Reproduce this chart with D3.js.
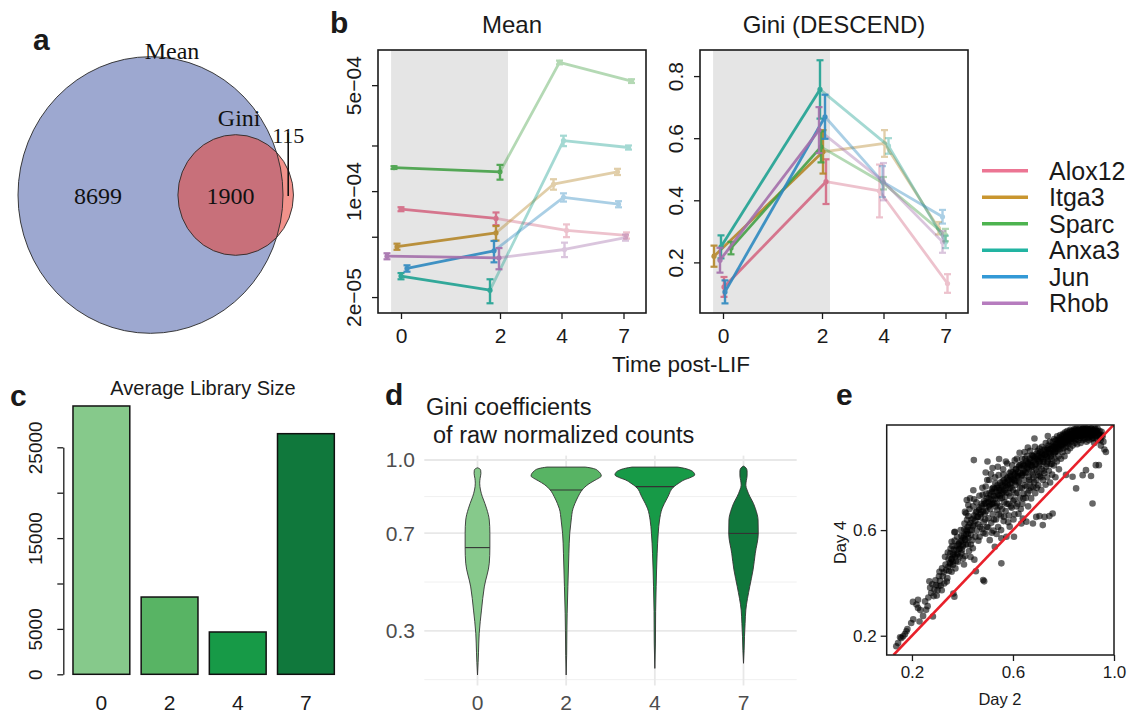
<!DOCTYPE html>
<html><head><meta charset="utf-8">
<script src="https://cdn.jsdelivr.net/npm/d3@7"></script>
<style>body{margin:0;background:#fff} svg{display:block}</style>
</head><body>
<svg id="fig" width="1131" height="715"></svg>
<script>
// ================= DATA =================
// panel a: Venn counts
const vennNames = ["Mean", "Gini"];
const vennCounts = [8699, 1900, 115]; // Mean only, both, Gini only

// panel b: genes over time
const times = [0, 2, 4, 7];
const genes = ["Alox12", "Itga3", "Sparc", "Anxa3", "Jun", "Rhob"];
const geneColors = ["#ec7593", "#c9962f", "#4db34f", "#22b4a2", "#3399d6", "#b67cbe"];
const meanValues = [
  [7.6e-5, 6.6e-5, 5.5e-5, 5.1e-5],
  [4.3e-5, 5.3e-5, 1.11e-4, 1.34e-4],
  [1.43e-4, 1.34e-4, 7.06e-4, 5.32e-4],
  [2.75e-5, 2.22e-5, 2.15e-4, 1.94e-4],
  [3.09e-5, 4.04e-5, 9.1e-5, 8.2e-5],
  [3.72e-5, 3.63e-5, 4.12e-5, 4.94e-5]
];
const meanErrors = [
  [0.23e-5, 0.63e-5, 0.53e-5, 0.24e-5],
  [0.2e-5, 0.58e-5, 0.88e-5, 0.63e-5],
  [0.3e-5, 1.5e-5, 2.0e-5, 1.5e-5],
  [0.13e-5, 0.4e-5, 1.7e-5, 0.6e-5],
  [0.15e-5, 0.65e-5, 0.57e-5, 0.38e-5],
  [0.17e-5, 0.58e-5, 0.45e-5, 0.23e-5]
];
const giniValues = [
  [0.121, 0.46, 0.43, 0.132],
  [0.22, 0.556, 0.583, 0.31],
  [0.246, 0.572, 0.455, 0.288],
  [0.25, 0.757, 0.575, 0.266],
  [0.105, 0.669, 0.46, 0.347],
  [0.207, 0.626, 0.46, 0.266]
];
const giniErrors = [
  [0.032, 0.072, 0.085, 0.03],
  [0.034, 0.07, 0.043, 0.02],
  [0.02, 0.05, 0.02, 0.02],
  [0.037, 0.094, 0.025, 0.02],
  [0.037, 0.071, 0.05, 0.022],
  [0.04, 0.074, 0.06, 0.035]
];
const meanTicks = [5e-4, 2e-4, 1e-4, 5e-5, 2e-5];
const meanTickLabels = ["5e\u221204", "", "1e\u221204", "", "2e\u221205"];
const giniTicks = [0.2, 0.4, 0.6, 0.8];
const giniTickLabels = ["0.2", "0.4", "0.6", "0.8"];

// panel c: library size
const libDays = ["0", "2", "4", "7"];
const libSizes = [29550, 8510, 4660, 26500];
const libTicks = [0, 5000, 10000, 15000, 20000, 25000];
const libTickLabels = ["0", "5000", "", "15000", "", "25000"];
const dayGreens = ["#86c98b", "#58b464", "#179a47", "#10783c"];

// panel d: violin density profiles [gini, relative density]
const violinDays = ["0", "2", "4", "7"];
const violinProfiles = [
  [[0.119,0],[0.17,0.015],[0.21,0.025],[0.29,0.043],[0.385,0.10],[0.48,0.17],[0.577,0.295],[0.641,0.31],[0.70,0.31],[0.754,0.295],[0.80,0.23],[0.822,0.185],[0.85,0.12],[0.877,0.075],[0.905,0.055],[0.925,0.065],[0.945,0.085],[0.958,0.08],[0.965,0.045],[0.968,0]],
  [[0.119,0],[0.2,0.012],[0.3,0.018],[0.372,0.025],[0.481,0.043],[0.618,0.068],[0.70,0.09],[0.754,0.126],[0.80,0.17],[0.822,0.22],[0.85,0.30],[0.877,0.40],[0.90,0.55],[0.915,0.70],[0.926,0.82],[0.934,0.88],[0.945,0.86],[0.955,0.80],[0.962,0.74],[0.968,0.6],[0.971,0.48]],
  [[0.146,0],[0.25,0.015],[0.38,0.02],[0.481,0.033],[0.618,0.058],[0.70,0.085],[0.754,0.118],[0.80,0.18],[0.822,0.24],[0.85,0.33],[0.891,0.48],[0.905,0.6],[0.918,0.73],[0.93,0.92],[0.939,1.0],[0.95,0.97],[0.959,0.88],[0.966,0.74],[0.971,0.57]],
  [[0.167,0],[0.22,0.015],[0.276,0.025],[0.33,0.04],[0.385,0.058],[0.481,0.156],[0.55,0.24],[0.618,0.295],[0.699,0.37],[0.754,0.365],[0.80,0.30],[0.822,0.25],[0.85,0.16],[0.877,0.09],[0.897,0.058],[0.915,0.07],[0.935,0.09],[0.955,0.09],[0.968,0.06],[0.975,0]]
];
const violinMedians = [0.641, 0.877, 0.891, 0.699];
const violinBreaks = [0.3, 0.7, 1.0];
const violinMinorBreaks = [0.1, 0.5, 0.85];

// panel e: Gini Day 2 vs Day 4
const giniDay2Day4 = [
[0.138,0.160],[0.145,0.172],[0.153,0.194],[0.158,0.191],[0.165,0.198],[0.172,0.206],[0.178,0.217],[0.182,0.225],[0.197,0.248],[0.205,0.262],
[0.230,0.254],[0.244,0.275],[0.204,0.328],[0.224,0.336],[0.218,0.318],[0.224,0.305],[0.233,0.297],[0.256,0.298],[0.262,0.312],[0.283,0.273],
[0.276,0.362],[0.289,0.374],[0.305,0.388],[0.269,0.406],[0.296,0.392],[0.311,0.408],[0.298,0.352],[0.318,0.372],[0.309,0.442],[0.322,0.425],
[0.335,0.449],[0.331,0.499],[0.344,0.461],[0.357,0.442],[0.368,0.348],[0.364,0.360],[0.328,0.398],[0.340,0.418],[0.350,0.475],[0.345,0.490],
[0.352,0.512],[0.362,0.468],[0.372,0.455],[0.366,0.526],[0.378,0.505],[0.382,0.480],[0.360,0.540],[0.370,0.594],[0.357,0.556],[0.377,0.540],
[0.386,0.528],[0.392,0.556],[0.396,0.512],[0.402,0.492],[0.406,0.470],[0.411,0.502],[0.401,0.538],[0.412,0.562],[0.421,0.546],[0.426,0.521],
[0.432,0.498],[0.441,0.531],[0.438,0.562],[0.447,0.488],[0.453,0.444],[0.482,0.411],[0.486,0.406],[0.368,0.592],[0.414,0.585],[0.434,0.582],
[0.396,0.578],[0.407,0.603],[0.421,0.612],[0.431,0.627],[0.418,0.639],[0.414,0.664],[0.423,0.653],[0.410,0.669],[0.443,0.644],[0.453,0.667],
[0.466,0.677],[0.417,0.714],[0.430,0.720],[0.423,0.695],[0.446,0.717],[0.443,0.751],[0.445,0.865],[0.480,0.734],[0.492,0.765],[0.506,0.790],
[0.492,0.818],[0.499,0.860],[0.519,0.835],[0.545,0.869],[0.492,0.702],[0.456,0.598],[0.462,0.622],[0.468,0.575],[0.472,0.648],[0.476,0.700],
[0.478,0.604],[0.484,0.630],[0.488,0.662],[0.491,0.586],[0.494,0.738],[0.497,0.612],[0.503,0.645],[0.505,0.690],[0.508,0.562],[0.511,0.717],
[0.514,0.628],[0.517,0.756],[0.520,0.660],[0.523,0.598],[0.526,0.702],[0.528,0.537],[0.530,0.778],[0.533,0.640],[0.536,0.731],[0.538,0.676],
[0.541,0.612],[0.543,0.808],[0.546,0.752],[0.549,0.690],[0.552,0.655],[0.554,0.474],[0.554,0.569],[0.556,0.721],[0.559,0.785],[0.561,0.830],
[0.563,0.634],[0.566,0.705],[0.568,0.768],[0.571,0.672],[0.574,0.575],[0.574,0.742],[0.577,0.852],[0.579,0.800],[0.582,0.700],[0.584,0.655],
[0.587,0.613],[0.587,0.760],[0.590,0.728],[0.592,0.822],[0.595,0.685],[0.598,0.792],[0.600,0.752],[0.602,0.640],[0.604,0.575],[0.605,0.715],
[0.607,0.864],[0.610,0.772],[0.612,0.830],[0.614,0.690],[0.617,0.742],[0.619,0.806],[0.622,0.662],[0.624,0.783],[0.626,0.893],[0.627,0.722],
[0.630,0.848],[0.633,0.625],[0.635,0.760],[0.637,0.700],[0.639,0.644],[0.640,0.815],[0.642,0.738],[0.645,0.790],[0.646,0.896],[0.648,0.870],
[0.650,0.722],[0.653,0.632],[0.654,0.765],[0.656,0.838],[0.659,0.913],[0.660,0.690],[0.662,0.802],[0.665,0.750],[0.667,0.858],[0.669,0.782],
[0.672,0.720],[0.674,0.822],[0.676,0.884],[0.679,0.625],[0.680,0.762],[0.682,0.800],[0.685,0.947],[0.686,0.845],[0.688,0.740],[0.690,0.868],
[0.692,0.650],[0.693,0.790],[0.696,0.820],[0.698,0.900],[0.700,0.770],[0.702,0.842],[0.705,0.653],[0.705,0.909],[0.707,0.805],[0.710,0.875],
[0.712,0.752],[0.714,0.830],[0.716,0.890],[0.718,0.619],[0.719,0.790],[0.722,0.858],[0.724,0.815],[0.725,0.650],[0.727,0.905],[0.729,0.772],
[0.731,0.840],[0.733,0.880],[0.735,0.800],[0.738,0.956],[0.738,0.860],[0.740,0.920],[0.742,0.825],[0.744,0.653],[0.745,0.893],[0.747,0.780],
[0.749,0.850],[0.751,0.910],[0.753,0.870],[0.755,0.810],[0.757,0.663],[0.758,0.935],[0.760,0.890],[0.762,0.845],[0.764,0.915],[0.766,0.870],
[0.768,0.800],[0.770,0.940],[0.772,0.900],[0.774,0.860],[0.777,0.941],[0.778,0.920],[0.780,0.880],[0.782,0.830],[0.784,0.950],[0.786,0.905],
[0.788,0.935],[0.790,0.870],[0.792,0.920],[0.794,0.955],[0.796,0.895],[0.798,0.940],[0.800,0.910],[0.802,0.960],[0.804,0.880],[0.806,0.930],
[0.808,0.950],[0.810,0.809],[0.810,0.915],[0.812,0.965],[0.814,0.940],[0.816,0.900],[0.818,0.955],[0.820,0.925],[0.822,0.970],[0.824,0.945],
[0.826,0.910],[0.828,0.960],[0.830,0.935],[0.832,0.975],[0.834,0.950],[0.836,0.802],[0.836,0.920],[0.838,0.965],[0.840,0.945],[0.842,0.975],
[0.844,0.930],[0.846,0.960],[0.848,0.980],[0.850,0.758],[0.850,0.945],[0.852,0.970],[0.854,0.925],[0.856,0.955],[0.858,0.980],[0.860,0.940],
[0.862,0.965],[0.864,0.975],[0.866,0.950],[0.868,0.930],[0.870,0.970],[0.872,0.982],[0.874,0.955],[0.876,0.808],[0.876,0.940],[0.878,0.970],
[0.880,0.960],[0.882,0.982],[0.884,0.945],[0.886,0.975],[0.889,0.827],[0.889,0.960],[0.891,0.935],[0.893,0.980],[0.895,0.965],[0.897,0.950],
[0.899,0.975],[0.901,0.940],[0.903,0.968],[0.905,0.983],[0.907,0.955],[0.909,0.805],[0.910,0.972],[0.912,0.945],[0.915,0.701],[0.915,0.962],
[0.918,0.978],[0.920,0.950],[0.922,0.930],[0.925,0.970],[0.928,0.846],[0.930,0.958],[0.933,0.975],[0.936,0.940],[0.940,0.965],[0.945,0.950],
[0.948,0.920],[0.952,0.960],[0.958,0.935],[0.968,0.896],[0.962,0.905],[0.940,0.846],
[0.252,0.330],[0.265,0.345],[0.272,0.382],[0.281,0.395],[0.286,0.350],[0.293,0.410],[0.301,0.372],[0.307,0.425],[0.314,0.390],[0.319,0.455],
[0.326,0.440],[0.333,0.470],[0.338,0.405],[0.342,0.515],[0.347,0.445],[0.353,0.530],[0.358,0.490],[0.363,0.505],[0.369,0.560],[0.374,0.482],
[0.379,0.575],[0.384,0.545],[0.389,0.500],[0.393,0.600],[0.398,0.525],[0.403,0.570],[0.408,0.625],[0.413,0.545],[0.418,0.595],[0.424,0.570],
[0.428,0.680],[0.433,0.545],[0.437,0.600],[0.442,0.690],[0.447,0.620],[0.451,0.575],[0.455,0.705],[0.459,0.650],[0.463,0.560],[0.467,0.730],
[0.470,0.612],[0.474,0.668],[0.479,0.760],[0.483,0.590],[0.487,0.700],[0.490,0.640],[0.495,0.672],[0.498,0.790],[0.502,0.610],[0.507,0.740],
[0.510,0.680],[0.513,0.812],[0.516,0.590],[0.519,0.700],[0.522,0.760],[0.525,0.640],[0.529,0.800],[0.532,0.690],[0.535,0.585],[0.538,0.760],
[0.540,0.840],[0.544,0.660],[0.547,0.720],[0.550,0.780],[0.553,0.600],[0.557,0.680],[0.560,0.745],[0.562,0.810],[0.565,0.650],[0.569,0.725],
[0.572,0.860],[0.575,0.700],[0.578,0.780],[0.581,0.630],[0.585,0.740],[0.588,0.805],[0.591,0.690],[0.594,0.760],[0.597,0.845],[0.601,0.710],
[0.603,0.790],[0.606,0.660],[0.609,0.815],[0.611,0.740],[0.615,0.870],[0.618,0.700],[0.621,0.780],[0.623,0.840],[0.628,0.760],[0.631,0.680],
[0.634,0.805],[0.636,0.870],[0.641,0.720],[0.643,0.845],[0.647,0.770],[0.651,0.815],[0.655,0.880],[0.658,0.740],[0.661,0.850],[0.664,0.790],
[0.668,0.900],[0.671,0.760],[0.675,0.845],[0.678,0.810],[0.681,0.880],[0.684,0.780],[0.687,0.915],[0.691,0.830],[0.694,0.760],[0.697,0.870],
[0.701,0.810],[0.704,0.890],[0.708,0.850],[0.711,0.800],[0.715,0.915],[0.718,0.860],[0.721,0.825],[0.726,0.885],[0.730,0.930],[0.734,0.850],
[0.737,0.905],[0.741,0.870],[0.746,0.935],[0.750,0.890],[0.754,0.850],[0.759,0.915],[0.763,0.945],[0.767,0.895],[0.771,0.925],[0.775,0.955],
[0.779,0.905],[0.783,0.935],[0.787,0.960],[0.791,0.945],[0.795,0.925],[0.799,0.965],[0.803,0.945],[0.807,0.970],[0.811,0.950],[0.815,0.975],
[0.819,0.935],[0.823,0.960],[0.827,0.980],[0.831,0.955],[0.835,0.975],[0.839,0.955],[0.843,0.983],[0.847,0.965],[0.851,0.985],[0.855,0.960],
[0.859,0.972],[0.863,0.985],[0.867,0.962],[0.871,0.978],[0.875,0.985],[0.879,0.950],[0.883,0.970],[0.887,0.985],[0.891,0.962],[0.895,0.985],
[0.899,0.955],[0.903,0.978],[0.907,0.968],[0.911,0.985],[0.915,0.950],[0.919,0.968],[0.923,0.982],[0.927,0.955],[0.931,0.968],[0.935,0.985],
[0.939,0.960],[0.943,0.975],[0.947,0.940],[0.951,0.972],[0.955,0.955],
[0.501,0.705],[0.504,0.720],[0.509,0.695],[0.512,0.735],[0.515,0.700],[0.518,0.745],[0.521,0.715],[0.524,0.730],[0.527,0.755],[0.531,0.720],
[0.534,0.745],[0.537,0.700],[0.539,0.770],[0.542,0.735],[0.545,0.760],[0.548,0.730],[0.551,0.750],[0.555,0.770],[0.558,0.740],[0.561,0.765],
[0.564,0.790],[0.567,0.750],[0.570,0.780],[0.573,0.760],[0.576,0.795],[0.580,0.770],[0.583,0.790],[0.586,0.815],[0.589,0.775],[0.592,0.800],
[0.596,0.780],[0.599,0.820],[0.602,0.795],[0.606,0.810],[0.609,0.785],[0.612,0.830],[0.616,0.805],[0.619,0.820],[0.622,0.800],[0.625,0.845],
[0.629,0.815],[0.632,0.835],[0.636,0.810],[0.639,0.850],[0.642,0.825],[0.646,0.845],[0.649,0.820],[0.652,0.860],[0.656,0.835],[0.659,0.855],
[0.663,0.830],[0.666,0.870],[0.670,0.845],[0.673,0.865],[0.677,0.840],[0.680,0.880],[0.684,0.860],[0.687,0.875],[0.691,0.850],[0.694,0.890],
[0.698,0.865],[0.701,0.880],[0.705,0.860],[0.708,0.895],[0.712,0.875],[0.716,0.885],[0.719,0.870],[0.723,0.905],[0.727,0.885],[0.731,0.895],
[0.734,0.875],[0.738,0.910],[0.742,0.895],[0.746,0.905],[0.750,0.880],[0.754,0.920],[0.758,0.905],[0.762,0.915],[0.766,0.895],[0.770,0.925],
[0.774,0.910],[0.778,0.930],[0.782,0.915],[0.786,0.940],[0.790,0.925],[0.794,0.935],[0.798,0.920],[0.802,0.945],[0.806,0.935],[0.810,0.955],
[0.814,0.930],[0.818,0.950],[0.822,0.940],[0.826,0.960],[0.830,0.945],[0.834,0.962],[0.838,0.950],[0.842,0.965],[0.846,0.940],[0.850,0.960],
[0.854,0.975],[0.858,0.955],[0.862,0.968],[0.866,0.978],[0.870,0.958],[0.874,0.970],[0.878,0.985],[0.882,0.965],[0.886,0.975],[0.890,0.985],
[0.894,0.970],[0.898,0.980],[0.902,0.962],[0.906,0.975],[0.910,0.985],[0.914,0.972],[0.918,0.960],[0.922,0.975],[0.926,0.985],[0.930,0.975],
[0.352,0.470],[0.356,0.490],[0.361,0.480],[0.365,0.510],[0.371,0.500],[0.376,0.525],[0.381,0.510],[0.386,0.550],[0.391,0.530],[0.396,0.560],
[0.401,0.545],[0.406,0.580],[0.411,0.565],[0.416,0.600],[0.421,0.585],[0.426,0.620],[0.431,0.600],[0.436,0.640],[0.441,0.615],[0.446,0.655],
[0.451,0.635],[0.456,0.670],[0.461,0.650],[0.466,0.685],[0.471,0.660],[0.476,0.690],[0.481,0.670],[0.486,0.710],[0.491,0.685],[0.496,0.720]
];
const scatterTicksX = [0.2, 0.6, 1.0];
const scatterTicksY = [0.2, 0.6];

// ================= LAYOUT CONSTANTS =================
const SANS = "'Liberation Sans', Arial, Helvetica, sans-serif";
const SERIF = "'Liberation Serif', 'Times New Roman', serif";
const INK = "#1a1a1a";
// horizontal dodge (px) of each gene at each time point, as in the reference
const meanJitterPx = [[0,-4,5,3],[-4,-4,-8,-6],[-7,0,-2,8],[0,-10,2,5],[6,-6,2,-5],[-14,-1,3,2]];
const giniJitterPx = [[1,4,-4,2],[-9,1,1,-7],[8,-1,0,0],[-2,-2,5,0],[2,3,-1,-3],[-3,-3,0,-3]];

const svg = d3.select("#fig");
svg.append("rect").attr("width", 1131).attr("height", 715).attr("fill", "#fff");

function panelLabel(t, x, y) {
  svg.append("text").attr("x", x).attr("y", y).attr("font-family", SANS)
    .attr("font-weight", "bold").attr("font-size", 30).attr("fill", INK).text(t);
}

// ================= PANEL a: Venn =================
(function () {
  const meanTotal = vennCounts[0] + vennCounts[1];
  const giniTotal = vennCounts[1] + vennCounts[2];
  const rScale = d3.scaleSqrt().domain([0, meanTotal]).range([0, 132.5]);
  const r1 = rScale(meanTotal), r2 = rScale(giniTotal);
  const areaUnit = Math.PI * r1 * r1 / meanTotal;
  const target = vennCounts[1] * areaUnit;
  function lens(d) {
    if (d >= r1 + r2) return 0;
    if (d <= Math.abs(r1 - r2)) return Math.PI * Math.min(r1, r2) ** 2;
    const a = r1 * r1 * Math.acos((d * d + r1 * r1 - r2 * r2) / (2 * d * r1));
    const b = r2 * r2 * Math.acos((d * d + r2 * r2 - r1 * r1) / (2 * d * r2));
    const c = 0.5 * Math.sqrt((-d + r1 + r2) * (d + r1 - r2) * (d - r1 + r2) * (d + r1 + r2));
    return a + b - c;
  }
  let lo = r1 - r2, hi = r1 + r2;
  for (let i = 0; i < 80; i++) { const m = (lo + hi) / 2; if (lens(m) > target) lo = m; else hi = m; }
  const d = (lo + hi) / 2;
  const cx = 150.5, cy = 195, sy = 1.044;
  const g = svg.append("g").attr("transform", `translate(${cx},${cy}) scale(1,${sy})`);
  g.append("clipPath").attr("id", "meanClip").append("circle").attr("cx", 0).attr("cy", 0).attr("r", r1);
  g.append("circle").attr("r", r1).attr("fill", "#9da8d0");
  g.append("circle").attr("cx", d).attr("r", r2).attr("fill", "#f2928b");
  g.append("circle").attr("cx", d).attr("r", r2).attr("fill", "#c8707a").attr("clip-path", "url(#meanClip)");
  g.append("circle").attr("r", r1).attr("fill", "none").attr("stroke", "#2a2a2a").attr("stroke-width", 0.9);
  g.append("circle").attr("cx", d).attr("r", r2).attr("fill", "none").attr("stroke", "#2a2a2a").attr("stroke-width", 0.9);

  const t = (s, x, y, fs) => svg.append("text").attr("x", x).attr("y", y).attr("text-anchor", "middle")
    .attr("font-family", SERIF).attr("font-size", fs).attr("fill", "#111").text(s);
  const bigL = cx - r1, bigR = cx + r1, gL = cx + d - r2, gR = cx + d + r2;
  t(vennNames[0], cx + 21.5, cy - r1 * sy + 2, 24);
  t(vennNames[1], cx + d + 3.5, cy - r2 * sy - 8.5, 24);
  t(d3.format("d")(vennCounts[0]), (bigL + gL) / 2, cy + 9, 24);
  t(d3.format("d")(vennCounts[1]), (gL + bigR) / 2, cy + 9, 24);
  const lx = (bigR + gR) / 2;
  t(d3.format("d")(vennCounts[2]), lx, cy - 52, 22);
  svg.append("line").attr("x1", lx).attr("x2", lx).attr("y1", cy - 62).attr("y2", cy + 1)
    .attr("stroke", "#111").attr("stroke-width", 1.6);
  panelLabel("a", 33, 50);
})();

// ================= PANEL b: trends =================
const timePos = [23, 122, 183.5, 245.5];
const shadeDays = [-0.2, 2.26];
function trendPanel(left, title, values, errors, jitter, y, ticks, tickLabels) {
  const top = 50, w = 268, h = 263;
  const g = svg.append("g").attr("transform", `translate(${left},${top})`);
  const x = d3.scaleLinear().domain(times).range(timePos);
  g.append("rect").attr("x", x(shadeDays[0])).attr("y", 0)
    .attr("width", x(shadeDays[1]) - x(shadeDays[0])).attr("height", h).attr("fill", "#e5e5e5");
  const line = d3.line().x(p => p.x).y(p => y(p.v));
  const series = genes.map((gene, gi) => ({
    color: d3.color(geneColors[gi]).darker(0.3).formatHex(),
    pts: times.map((tt, ti) => ({ x: x(tt) + jitter[gi][ti], v: values[gi][ti], e: errors[gi][ti] }))
  }));
  function drawPart(s, pts, seg, op) {
    const gg = g.append("g").attr("opacity", op);
    gg.append("path").attr("d", line(seg)).attr("fill", "none").attr("stroke", s.color)
      .attr("stroke-width", 2.8).attr("stroke-linejoin", "round");
    pts.forEach(p => {
      gg.append("line").attr("x1", p.x).attr("x2", p.x).attr("y1", y(p.v - p.e)).attr("y2", y(p.v + p.e))
        .attr("stroke", s.color).attr("stroke-width", 2.4);
      [p.v - p.e, p.v + p.e].forEach(v => gg.append("line").attr("x1", p.x - 3.5).attr("x2", p.x + 3.5)
        .attr("y1", y(v)).attr("y2", y(v)).attr("stroke", s.color).attr("stroke-width", 2.2));
      gg.append("circle").attr("cx", p.x).attr("cy", y(p.v)).attr("r", 2.6).attr("fill", s.color);
    });
  }
  series.forEach(s => drawPart(s, s.pts.slice(2), s.pts.slice(1), 0.4));
  series.forEach(s => drawPart(s, s.pts.slice(0, 2), s.pts.slice(0, 2), 0.9));

  const ya = g.append("g").call(d3.axisLeft(y).tickValues(ticks).tickFormat((dd, i) => tickLabels[i]).tickSize(6).tickSizeOuter(0));
  ya.select(".domain").remove();
  ya.selectAll("line").attr("stroke", INK).attr("stroke-width", 1.3);
  ya.selectAll("text").attr("transform", "rotate(-90)").attr("x", 0).attr("y", -17).attr("dy", null)
    .attr("text-anchor", "middle").attr("font-size", 21).attr("font-family", SANS).attr("fill", INK);
  const xa = g.append("g").attr("transform", `translate(0,${h})`)
    .call(d3.axisBottom(x).tickValues(times).tickFormat(d3.format("d")).tickSize(6).tickPadding(9).tickSizeOuter(0));
  xa.select(".domain").remove();
  xa.selectAll("line").attr("stroke", INK).attr("stroke-width", 1.3);
  xa.selectAll("text").attr("font-size", 21).attr("font-family", SANS).attr("fill", INK);
  g.append("rect").attr("width", w).attr("height", h).attr("fill", "none").attr("stroke", INK).attr("stroke-width", 1.6);
  g.append("text").attr("x", w / 2).attr("y", -17).attr("text-anchor", "middle").attr("font-family", SANS)
    .attr("font-size", 24).attr("fill", INK).text(title);
}
trendPanel(378, "Mean", meanValues, meanErrors, meanJitterPx,
  d3.scaleLog().domain([1.57e-5, 8.53e-4]).range([263, 0]), meanTicks, meanTickLabels);
trendPanel(700, "Gini (DESCEND)", giniValues, giniErrors, giniJitterPx,
  d3.scaleLinear().domain([0.037, 0.884]).range([263, 0]), giniTicks, giniTickLabels);
svg.append("text").attr("x", 681).attr("y", 372).attr("text-anchor", "middle").attr("font-family", SANS)
  .attr("font-size", 22.5).attr("fill", INK).text("Time post-LIF");
panelLabel("b", 330, 33);

// legend
(function () {
  const ly = d3.scalePoint().domain(genes).range([170.7, 303.3]);
  const g = svg.append("g");
  genes.forEach((gene, i) => {
    g.append("line").attr("x1", 982).attr("x2", 1028).attr("y1", ly(gene)).attr("y2", ly(gene))
      .attr("stroke", geneColors[i]).attr("stroke-width", 3.6);
    g.append("text").attr("x", 1049).attr("y", ly(gene) + 9).attr("font-family", SANS)
      .attr("font-size", 25).attr("fill", INK).text(gene);
  });
})();

// ================= PANEL c: bars =================
(function () {
  const x = d3.scaleBand().domain(libDays).range([67.3, 340]).paddingInner(1 / 6).paddingOuter(1 / 12);
  const y = d3.scaleLinear().domain([0, 25000]).range([674.3, 447.3]);
  svg.append("g").selectAll("rect").data(libSizes).join("rect")
    .attr("x", (d, i) => x(libDays[i])).attr("width", x.bandwidth())
    .attr("y", d => y(d)).attr("height", d => y(0) - y(d))
    .attr("fill", (d, i) => dayGreens[i]).attr("stroke", "#111").attr("stroke-width", 1.5);
  const ya = svg.append("g").attr("transform", "translate(63.3,0)")
    .call(d3.axisLeft(y).tickValues(libTicks).tickFormat((d, i) => libTickLabels[i]).tickSize(6).tickSizeOuter(0));
  ya.select(".domain").attr("stroke", INK).attr("stroke-width", 1.3);
  ya.selectAll("line").attr("stroke", INK).attr("stroke-width", 1.3);
  ya.selectAll("text").attr("transform", "rotate(-90)").attr("x", 0).attr("y", -21).attr("dy", null)
    .attr("text-anchor", "middle").attr("font-size", 19).attr("font-family", SANS).attr("fill", INK);
  svg.append("g").selectAll("text").data(libDays).join("text")
    .attr("x", d => x(d) + x.bandwidth() / 2).attr("y", 710).attr("text-anchor", "middle")
    .attr("font-family", SANS).attr("font-size", 21).attr("fill", INK).text(d => d);
  svg.append("text").attr("x", 203).attr("y", 395).attr("text-anchor", "middle").attr("font-family", SANS)
    .attr("font-size", 20).attr("fill", INK).text("Average Library Size");
  panelLabel("c", 10, 406);
})();

// ================= PANEL d: violins =================
(function () {
  const x = d3.scalePoint().domain(violinDays).range([424.3, 796.7]).padding(0.6);
  const y = d3.scaleLinear().domain([0.076, 1.018]).range([685.5, 455.6]);
  const wScale = d3.scaleLinear().domain([0, 1]).range([0, 0.45 * x.step()]);
  const grid = svg.append("g");
  violinMinorBreaks.forEach(v => grid.append("line").attr("x1", 424.3).attr("x2", 796.7)
    .attr("y1", y(v)).attr("y2", y(v)).attr("stroke", "#f0f0f0").attr("stroke-width", 1));
  violinBreaks.forEach(v => grid.append("line").attr("x1", 424.3).attr("x2", 796.7)
    .attr("y1", y(v)).attr("y2", y(v)).attr("stroke", "#e8e8e8").attr("stroke-width", 1.8));
  violinDays.forEach(dd => grid.append("line").attr("x1", x(dd)).attr("x2", x(dd))
    .attr("y1", y(1.018)).attr("y2", y(0.076)).attr("stroke", "#e8e8e8").attr("stroke-width", 1.8));
  violinDays.forEach((dd, i) => {
    const cx = x(dd);
    const area = d3.area().y(p => y(p[0])).x0(p => cx - wScale(p[1])).x1(p => cx + wScale(p[1]))
      .curve(d3.curveMonotoneY);
    svg.append("path").attr("d", area(violinProfiles[i])).attr("fill", dayGreens[i])
      .attr("stroke", "#333").attr("stroke-width", 0.9);
    const prof = violinProfiles[i], m = violinMedians[i];
    let k = prof.findIndex(p => p[0] >= m);
    const a = prof[k - 1], b = prof[k];
    const dens = a[1] + (b[1] - a[1]) * (m - a[0]) / (b[0] - a[0]);
    svg.append("line").attr("x1", cx - wScale(dens)).attr("x2", cx + wScale(dens))
      .attr("y1", y(m)).attr("y2", y(m)).attr("stroke", "#333").attr("stroke-width", 1.1);
  });
  svg.append("g").selectAll("text").data(violinBreaks).join("text")
    .attr("x", 415).attr("y", d => y(d) + 7.5).attr("text-anchor", "end").attr("font-family", SANS)
    .attr("font-size", 21).attr("fill", "#4d4d4d").text(d => d3.format(".1f")(d));
  svg.append("g").selectAll("text").data(violinDays).join("text")
    .attr("x", d => x(d)).attr("y", 710).attr("text-anchor", "middle").attr("font-family", SANS)
    .attr("font-size", 21).attr("fill", "#4d4d4d").text(d => d);
  svg.append("text").attr("x", 426).attr("y", 415).attr("font-family", SANS).attr("font-size", 23.5)
    .attr("fill", INK).text("Gini coefficients");
  svg.append("text").attr("x", 433).attr("y", 443).attr("font-family", SANS).attr("font-size", 23.5)
    .attr("fill", INK).text("of raw normalized counts");
  panelLabel("d", 385, 405);
})();

// ================= PANEL e: scatter =================
(function () {
  const L = 886.7, R = 1114, T = 425, B = 655;
  const x = d3.scaleLinear().domain([0.1, 1.0]).range([L, R]);
  const y = d3.scaleLinear().domain([0.127, 0.998]).range([B, T]);
  svg.append("clipPath").attr("id", "eclip").append("rect").attr("x", L).attr("y", T).attr("width", R - L).attr("height", B - T);
  const g = svg.append("g").attr("clip-path", "url(#eclip)");
  g.selectAll("circle").data(giniDay2Day4).join("circle")
    .attr("cx", d => x(d[0])).attr("cy", d => y(d[1])).attr("r", 3.3)
    .attr("fill", "#000").attr("fill-opacity", 0.6);
  const s = Math.max(x.domain()[0], y.domain()[0]);
  g.append("line").attr("x1", x(s)).attr("y1", y(s)).attr("x2", x(1)).attr("y2", y(1))
    .attr("stroke", "#e8202a").attr("stroke-width", 2.6);
  svg.append("rect").attr("x", L).attr("y", T).attr("width", R - L).attr("height", B - T)
    .attr("fill", "none").attr("stroke", INK).attr("stroke-width", 1.5);
  const xa = svg.append("g").attr("transform", `translate(0,${B})`)
    .call(d3.axisBottom(x).tickValues(scatterTicksX).tickFormat(d3.format(".1f")).tickSize(6).tickPadding(5).tickSizeOuter(0));
  xa.select(".domain").remove();
  xa.selectAll("line").attr("stroke", INK).attr("stroke-width", 1.3);
  xa.selectAll("text").attr("font-size", 17).attr("font-family", SANS).attr("fill", INK);
  const ya = svg.append("g").attr("transform", `translate(${L},0)`)
    .call(d3.axisLeft(y).tickValues(scatterTicksY).tickFormat(d3.format(".1f")).tickSize(6).tickPadding(4).tickSizeOuter(0));
  ya.select(".domain").remove();
  ya.selectAll("line").attr("stroke", INK).attr("stroke-width", 1.3);
  ya.selectAll("text").attr("font-size", 17).attr("font-family", SANS).attr("fill", INK);
  svg.append("text").attr("x", 1000).attr("y", 705).attr("text-anchor", "middle").attr("font-family", SANS)
    .attr("font-size", 16.5).attr("fill", INK).text("Day 2");
  svg.append("text").attr("transform", "rotate(-90)").attr("x", -542.5).attr("y", 846).attr("text-anchor", "middle")
    .attr("font-family", SANS).attr("font-size", 16.5).attr("fill", INK).text("Day 4");
  panelLabel("e", 836, 405);
})();
</script>
</body></html>
